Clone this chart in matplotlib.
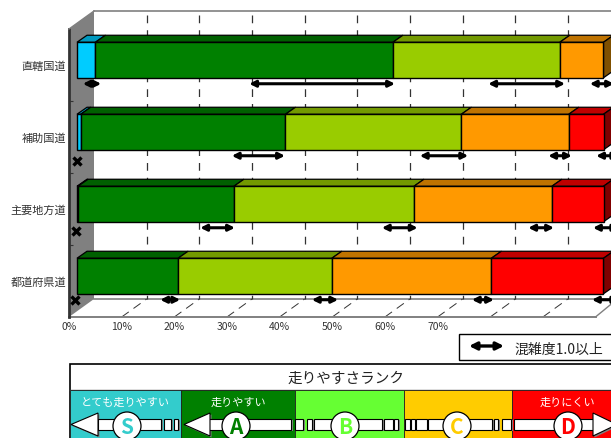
import matplotlib
matplotlib.use("Agg")
import matplotlib.pyplot as plt
from matplotlib.patches import Polygon, Rectangle, Circle

plt.rcParams['font.family'] = ['Noto Sans CJK JP', 'DejaVu Sans']

# --- data ---
ROADS = ["直轄国道", "補助国道", "主要地方道", "都道府県道"]
TICKS = [0, 10, 20, 30, 40, 50, 60, 70]

# share of each rank per road (%)
RANK_S = [3.5, 0.7, 0.2, 0.0]
RANK_A = [56.5, 38.9, 29.6, 19.2]
RANK_B = [31.7, 33.4, 34.2, 29.2]
RANK_C = [8.3, 20.4, 26.2, 30.3]
RANK_D = [0.0, 6.6, 9.8, 21.3]

# congested range per road and rank, (from, to) in %
CONGESTION = [
    [(1.1, 4.6), (32.7, 60.4), (78.1, 92.7), (97.4, 102.0)],
    [(29.4, 39.5), (65.1, 74.3), (89.5, 94.0), (98.6, 103.0)],
    [(23.4, 30.0), (57.9, 64.7), (85.7, 90.6), (98.0, 103.0)],
    [(15.8, 19.6), (44.6, 49.6), (75.0, 79.2), (97.8, 103.0)],
]
# roads where the rank S range has no width: (road index, %)
ZERO_MARKS = [(1, 0.0), (2, -0.2), (3, -0.4)]

RANK_COLS = ["#00CCFF", "#008000", "#99CC00", "#FF9900", "#FF0000"]
TOP_COLS = ["#0099BF", "#006000", "#739900", "#BF7300", "#BF0000"]
SIDE_COLS = ["#006680", "#004000", "#4D6600", "#805000", "#800000"]

PANEL_COLS = ["#33CCCC", "#008000", "#66FF33", "#FFCC00", "#FF0000"]
PANEL_TEXT = ["とても走りやすい", "走りやすい", "", "", "走りにくい"]
PANEL_LETTERS = ["S", "A", "B", "C", "D"]

W, H = 611, 439
fig = plt.figure(figsize=(W / 100, H / 100), dpi=100)

# front plane of the 3d box: 0-100% = 69-595.5 px, rows = 30-318 px
ax = fig.add_axes([69 / W, 1 - 318 / H, 526.5 / W, 288 / H])
ax.set_xlim(0, 100)
ax.set_ylim(3.5, -0.5)
ax.patch.set_visible(False)
for s in ax.spines.values():
    s.set_visible(False)


def dx(px):
    return px / 5.265


def dy(px):
    return px / 72.0


BACK_X, BACK_Y = dx(25), dy(18)
BAR_X, BAR_Y = dx(8), dy(5)
TOP_X, TOP_Y = dx(10), dy(7)
BAR_H = dy(35.5)

# --- walls ---
y_top, y_bot = -0.5, 3.5
ax.add_patch(Polygon([(0, y_top), (BACK_X, y_top - BACK_Y), (BACK_X, y_bot - BACK_Y), (0, y_bot)],
                     fc="#808080", ec="none", zorder=1, clip_on=False))
ax.plot([BACK_X, 110], [y_top - BACK_Y] * 2, color="#808080", lw=1.2, zorder=1, clip_on=False)
ax.plot([BACK_X, 110], [y_bot - BACK_Y] * 2, color="#808080", lw=1.2, zorder=1, clip_on=False)
ax.plot([0, 100], [y_bot, y_bot], color="#808080", lw=1.4, zorder=2, clip_on=False)
ax.plot([100, 103], [y_bot, y_bot - dy(13)], color="#808080", lw=1, zorder=2, clip_on=False)
ax.plot([0, 0], [y_top, y_bot], color="#333333", lw=2, zorder=2, clip_on=False)
ax.plot([0, BACK_X], [y_top, y_top - BACK_Y], color="#808080", lw=1, zorder=2, clip_on=False)

# --- grid ---
for t in range(10, 100, 10):
    ax.plot([t + BACK_X] * 2, [y_top - dy(14), y_bot - BACK_Y], color="#333333", lw=0.9,
            ls=(0, (6.2, 5.6)), zorder=1.5, clip_on=False)
    ax.plot([t, t + BACK_X], [y_bot, y_bot - BACK_Y], color="#333333", lw=0.7,
            ls=(0, (9, 6)), zorder=1.5, clip_on=False)

# --- bars ---
series = [RANK_S, RANK_A, RANK_B, RANK_C, RANK_D]
for r in range(len(ROADS)):
    left = BAR_X
    yc = r - BAR_Y
    y0, y1 = yc - BAR_H / 2, yc + BAR_H / 2
    last = max(i for i in range(5) if series[i][r] > 0)
    for i in range(5):
        v = series[i][r]
        if v <= 0:
            continue
        ax.add_patch(Polygon([(left, y0), (left + TOP_X, y0 - TOP_Y), (left + v + TOP_X, y0 - TOP_Y), (left + v, y0)],
                             fc=TOP_COLS[i], ec="black", lw=0.9, zorder=3, clip_on=False))
        ax.barh(r - BAR_Y, v, BAR_H, left=left, color=RANK_COLS[i], edgecolor="black", linewidth=1,
                zorder=4, clip_on=False)
        if i == last:
            ax.add_patch(Polygon([(left + v, y0), (left + v + TOP_X, y0 - TOP_Y),
                                  (left + v + TOP_X, y1 - TOP_Y), (left + v, y1)],
                                 fc=SIDE_COLS[i], ec="black", lw=0.9, zorder=3, clip_on=False))
        left += v

# --- congestion arrows ---
for r, spans in enumerate(CONGESTION):
    ya = r - BAR_Y + BAR_H / 2 + dy(6)
    for a, b in spans:
        ax.annotate("", xy=(b + BAR_X, ya), xytext=(a + BAR_X, ya), annotation_clip=False, zorder=6,
                    arrowprops=dict(arrowstyle="<|-|>", color="black", lw=2.2, mutation_scale=9,
                                    shrinkA=0, shrinkB=0))
for r, v in ZERO_MARKS:
    ax.plot(v + BAR_X, r - BAR_Y + BAR_H / 2 + dy(11 if r == 1 else 9 if r == 2 else 6), marker="x", ms=6, mew=2.4, color="black",
            zorder=6, clip_on=False)

# --- axis labels ---
ax.set_xticks(TICKS)
ax.set_xticklabels([f"{t}%" for t in TICKS], fontsize=7.5, color="#333333")
ax.set_yticks(range(len(ROADS)))
ax.set_yticklabels(ROADS, fontsize=8, color="#333333")
ax.set_yticks([0.5, 1.5, 2.5], minor=True)
ax.tick_params(axis="x", length=0, pad=3)
ax.tick_params(axis="y", which="major", length=0, pad=2)
ax.tick_params(axis="y", which="minor", direction="in", length=3, width=0.8, color="#333333")

# --- legend parts, in pixels ---
lax = fig.add_axes([0, 0, 1, 1])
lax.set_xlim(0, W)
lax.set_ylim(H, 0)
lax.axis("off")
lax.patch.set_visible(False)

lax.add_patch(Rectangle((458.5, 335), 160, 26, fc="white", ec="black", lw=1))
lax.annotate("", xy=(504, 347), xytext=(469, 347),
             arrowprops=dict(arrowstyle="<|-|>", color="black", lw=2.4, mutation_scale=11, shrinkA=0, shrinkB=0))
lax.text(514, 350, "混雑度1.0以上", fontsize=10, va="center", ha="left", color="#222222")

edges = [70, 181, 294.5, 403.5, 512, 620]
lax.add_patch(Rectangle((69.5, 364.5), 560, 80, fc="white", ec="black", lw=1.2, zorder=1))
lax.text(346, 379, "走りやすさランク", fontsize=10.5, ha="center", va="center", color="#222222", zorder=2)
lax.plot([70, 611], [391, 391], color="#555555", lw=1, zorder=2)
for i in range(5):
    lax.add_patch(Rectangle((edges[i], 391.5), edges[i + 1] - edges[i], 50, fc=PANEL_COLS[i],
                            ec="#222222", lw=0.6, zorder=2))
    if PANEL_TEXT[i]:
        cx = [125, 238, 0, 0, 567][i]
        lax.text(cx, 403, PANEL_TEXT[i], fontsize=8, color="white", ha="center", va="center", zorder=3)


def seg(x0, x1, col=None):
    # white bar piece with a grey shadow
    lax.add_patch(Rectangle((x0 + 1.5, 421.5), x1 - x0, 11, fc="#808080", ec="none", zorder=3))
    lax.add_patch(Rectangle((x0, 420), x1 - x0, 11, fc="white", ec="black", lw=0.8, zorder=4))


def head(tip, base):
    pts = [(tip, 425.5), (base, 414), (base, 420), (base, 431), (base, 437)]
    lax.add_patch(Polygon([(p[0] + 1.5, p[1] + 1.5) for p in pts], fc="#808080", ec="none", zorder=3))
    lax.add_patch(Polygon(pts, fc="white", ec="black", lw=0.8, zorder=5))


for a, b in [(98, 161), (164, 171), (174, 178), (208, 291), (295, 303), (307, 312), (314, 382),
             (384, 393), (394, 398), (405, 410), (411, 415), (416, 427), (428, 492), (494, 498), (502, 511), (514, 594)]:
    seg(a, b)
head(71, 98)
head(184, 210)
head(617, 593)

for i, cx in enumerate([127, 236, 345, 457, 568]):
    lax.add_patch(Circle((cx, 427), 14, fc="white", ec="black", lw=0.9, zorder=6))
    lax.text(cx, 428, PANEL_LETTERS[i], fontsize=15, fontweight="bold", color=PANEL_COLS[i],
             ha="center", va="center", zorder=7)

fig.savefig("out.png", dpi=100)
